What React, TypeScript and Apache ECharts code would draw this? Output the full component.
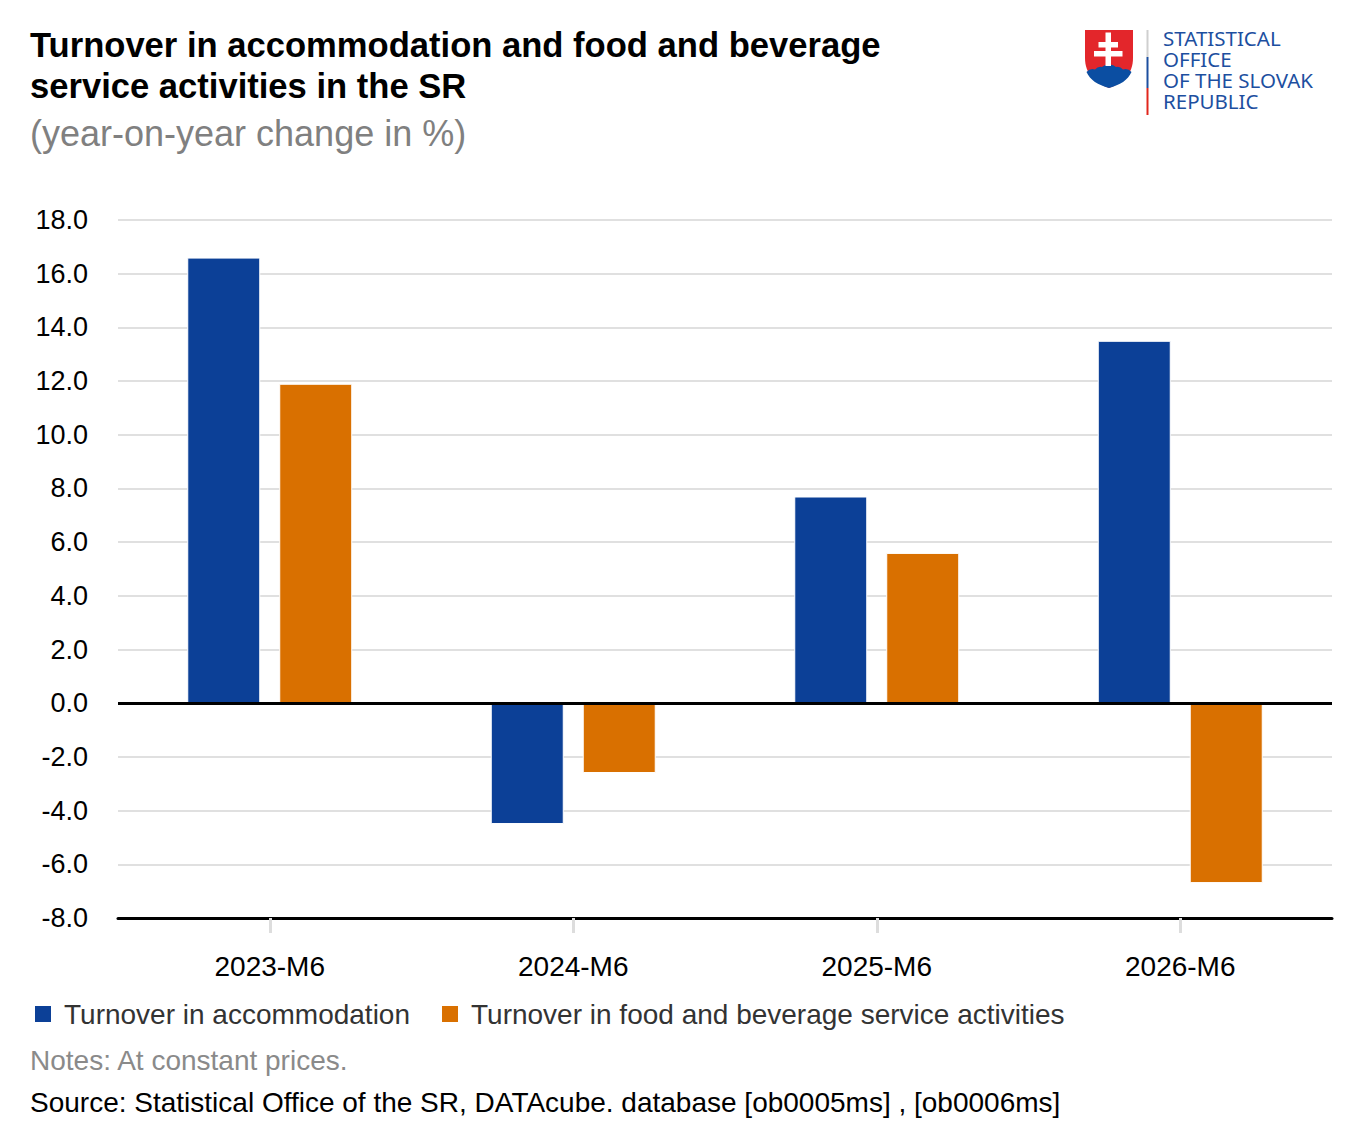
import React, { useEffect, useRef } from "react";
import * as echarts from "echarts";

const categories = ["2023-M6", "2024-M6", "2025-M6", "2026-M6"];
const accommodation = [16.6, -4.5, 7.7, 13.5];
const foodBeverage = [11.9, -2.6, 5.6, -6.7];
const seriesNames = [
	"Turnover in accommodation",
	"Turnover in food and beverage service activities",
];
const logoLines = ["STATISTICAL", "OFFICE", "OF THE SLOVAK", "REPUBLIC"];

const BLUE = "#0c4097";
const ORANGE = "#d97000";
const LOGO_BLUE = "#1d4f9f";
const FONT = "Liberation Sans, Arial, sans-serif";

// erb: štít, kríž, trojvršie
echarts.graphic.registerShape(
	"skShield",
	echarts.graphic.extendPath(
		"M0,0 H48 V28 C48,44 38,53 24,58 C10,53 0,44 0,28 Z",
		{}
	)
);
echarts.graphic.registerShape(
	"skHills",
	echarts.graphic.extendPath(
		"M1.5,42 Q5,38 10,39.5 Q13,36 17,37 Q20,34 24,34.5 Q28,34 31,37 Q35,36 38,39.5 Q43,38 46.5,42 C43,50 35,55 24,58 C13,55 5,50 1.5,42 Z",
		{}
	)
);
echarts.graphic.registerShape(
	"skCross",
	echarts.graphic.extendPath(
		"M20.5,2.5 H26 V12 H33 V17.5 H26 V21 H37.5 V26.5 H26 V36 H20.5 V26.5 H9 V21 H20.5 V17.5 H13.5 V12 H20.5 Z",
		{}
	)
);

const App: React.FC = () => {
	const chartRef = useRef<HTMLDivElement>(null);

	useEffect(() => {
		if (!chartRef.current) return;
		document.body.style.margin = "0";
		const chart = echarts.init(chartRef.current, undefined, { renderer: "svg" });

		const option: echarts.EChartsOption = {
			animation: false,
			backgroundColor: "#fff",
			textStyle: { fontFamily: FONT },
			title: [
				{
					text: "Turnover in accommodation and food and beverage\nservice activities in the SR",
					left: 30,
					top: 24,
					padding: 0,
					textStyle: {
						fontSize: 34.6,
						fontWeight: "bold",
						color: "#000",
						lineHeight: 41,
						fontFamily: FONT,
					},
				},
				{
					text: "(year-on-year change in %)",
					left: 30,
					top: 113,
					padding: 0,
					textStyle: {
						fontSize: 36,
						fontWeight: "normal",
						color: "#808080",
						lineHeight: 40,
						fontFamily: FONT,
					},
				},
				{
					text: "Notes: At constant prices.",
					left: 30,
					top: 1045,
					padding: 0,
					textStyle: {
						fontSize: 28,
						fontWeight: "normal",
						color: "#8a8a8a",
						lineHeight: 30,
						fontFamily: FONT,
					},
				},
				{
					text: "Source: Statistical Office of the SR, DATAcube. database [ob0005ms] , [ob0006ms]",
					left: 30,
					top: 1087,
					padding: 0,
					textStyle: {
						fontSize: 28,
						fontWeight: "normal",
						color: "#000",
						lineHeight: 30,
						fontFamily: FONT,
					},
				},
			],
			legend: {
				left: 33,
				top: 1000,
				padding: 0,
				itemWidth: 18,
				itemHeight: 18,
				itemGap: 30,
				icon: "rect",
				textStyle: {
					fontSize: 28,
					color: "#333",
					lineHeight: 28,
					padding: [0, 0, 0, 7],
					fontFamily: FONT,
				},
				data: seriesNames,
			},
			grid: {
				left: 118,
				right: 30,
				top: 220,
				bottom: 222,
				containLabel: false,
			},
			xAxis: {
				type: "category",
				data: categories,
				axisLine: { onZero: false, lineStyle: { color: "#000", width: 3 } },
				axisTick: {
					show: true,
					alignWithLabel: true,
					length: 15,
					lineStyle: { color: "#ddd", width: 3 },
				},
				axisLabel: { fontSize: 28, color: "#000", margin: 34, fontFamily: FONT },
				splitLine: { show: false },
			},
			yAxis: {
				type: "value",
				min: -8,
				max: 18,
				interval: 2,
				axisLine: { show: false },
				axisTick: { show: false },
				axisLabel: {
					fontSize: 27,
					color: "#000",
					margin: 30,
					fontFamily: FONT,
					formatter: (v: number) => v.toFixed(1),
				},
				splitLine: { lineStyle: { color: "#e0e0e0", width: 2 } },
			},
			series: [
				{
					name: seriesNames[0],
					type: "bar",
					data: accommodation,
					barWidth: 73,
					barGap: "26%",
					itemStyle: { color: BLUE, borderColor: "#fff", borderWidth: 1 },
					markLine: {
						silent: true,
						symbol: ["none", "none"],
						label: { show: false },
						lineStyle: { color: "#000", width: 3, type: "solid" },
						data: [{ yAxis: 0 }],
					},
				},
				{
					name: seriesNames[1],
					type: "bar",
					data: foodBeverage,
					barWidth: 73,
					itemStyle: { color: ORANGE, borderColor: "#fff", borderWidth: 1 },
				},
			],
			graphic: [
				{
					type: "group",
					x: 1085,
					y: 30,
					children: [
						{ type: "skShield", style: { fill: "#e3262b" } },
						{ type: "skHills", style: { fill: "#0b4ea2" } },
						{ type: "skCross", style: { fill: "#fff" } },
					],
				},
				{
					type: "line",
					shape: { x1: 1147.5, y1: 30, x2: 1147.5, y2: 57 },
					style: { stroke: "#cfcfcf", lineWidth: 2 },
				},
				{
					type: "line",
					shape: { x1: 1147.5, y1: 57, x2: 1147.5, y2: 88 },
					style: { stroke: LOGO_BLUE, lineWidth: 2 },
				},
				{
					type: "line",
					shape: { x1: 1147.5, y1: 88, x2: 1147.5, y2: 115 },
					style: { stroke: "#e1261c", lineWidth: 2 },
				},
				{
					type: "text",
					x: 1163,
					y: 27.5,
					style: {
						text: logoLines.join("\n"),
						fill: LOGO_BLUE,
						font: "20.5px 'Noto Sans', sans-serif",
						lineHeight: 21,
						verticalAlign: "top",
						align: "left",
					},
				},
			],
		};

		chart.setOption(option);
		return () => chart.dispose();
	}, []);

	return <div ref={chartRef} style={{ width: 1362, height: 1140 }} />;
};

export default App;
